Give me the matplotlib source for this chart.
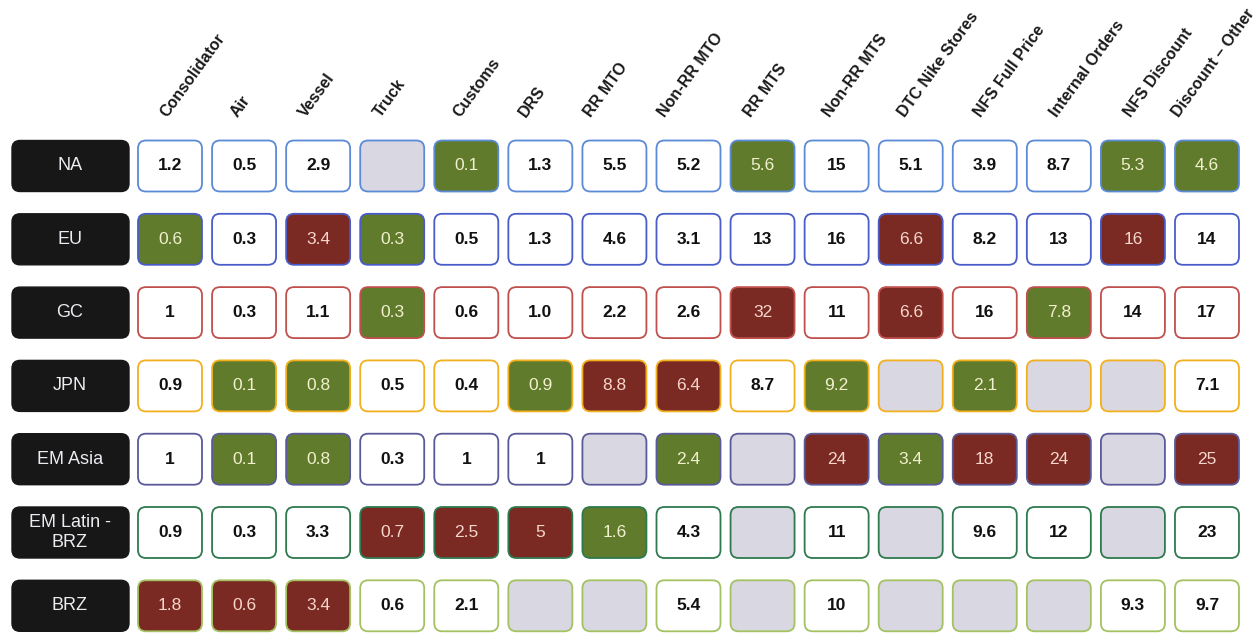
import numpy as np
import matplotlib.pyplot as plt
from matplotlib.patches import FancyBboxPatch

plt.rcParams['font.family'] = ['Liberation Sans', 'DejaVu Sans']

# regions (rows) and flow stages (columns)
regions = ['NA', 'EU', 'GC', 'JPN', 'EM Asia', 'EM Latin -\nBRZ', 'BRZ']
stages = ['Consolidator', 'Air', 'Vessel', 'Truck', 'Customs', 'DRS', 'RR MTO',
          'Non-RR MTO', 'RR MTS', 'Non-RR MTS', 'DTC Nike Stores', 'NFS Full Price',
          'Internal Orders', 'NFS Discount', 'Discount \u2013 Other']

# cell values as shown ('' = no data)
values = [
    ['1.2', '0.5', '2.9', '', '0.1', '1.3', '5.5', '5.2', '5.6', '15', '5.1', '3.9', '8.7', '5.3', '4.6'],
    ['0.6', '0.3', '3.4', '0.3', '0.5', '1.3', '4.6', '3.1', '13', '16', '6.6', '8.2', '13', '16', '14'],
    ['1', '0.3', '1.1', '0.3', '0.6', '1.0', '2.2', '2.6', '32', '11', '6.6', '16', '7.8', '14', '17'],
    ['0.9', '0.1', '0.8', '0.5', '0.4', '0.9', '8.8', '6.4', '8.7', '9.2', '', '2.1', '', '', '7.1'],
    ['1', '0.1', '0.8', '0.3', '1', '1', '', '2.4', '', '24', '3.4', '18', '24', '', '25'],
    ['0.9', '0.3', '3.3', '0.7', '2.5', '5', '1.6', '4.3', '', '11', '', '9.6', '12', '', '23'],
    ['1.8', '0.6', '3.4', '0.6', '2.1', '', '', '5.4', '', '10', '', '', '', '9.3', '9.7'],
]

# status per cell: w = neutral, g = good, r = bad, e = empty
status = [
    'wwwegwwwgwwwwgg',
    'gwrgwwwwwwrwwrw',
    'wwwgwwwwrwrwgww',
    'wggwwgrrwgegeew',
    'wggwwwegergrrer',
    'wwwrrrgwewewwew',
    'rrrwweeweweeeww',
]

row_edge = ['#5b8ad6', '#4a5cc8', '#c0504d', '#f2b01e', '#5a5a9a', '#2e7a4e', '#a4c261']

fill = {'w': 'white', 'g': '#607b2b', 'r': '#7a2a23', 'e': '#d9d8e2'}
txt = {'w': '#111111', 'g': '#f2f0cf', 'r': '#f6d6cc', 'e': 'k'}

# header text start, in column widths relative to the column centre
head_dx = [-0.03, -0.09, -0.16, -0.15, -0.08, -0.19, -0.31, -0.32,
           -0.15, -0.09, -0.08, -0.05, -0.03, -0.02, -0.38]

x0, dx = 170, 74.07      # first column centre, column pitch
y0, dy = 166, 73.3       # first row centre, row pitch
cw, ch = 64, 51          # cell size

fig = plt.figure(figsize=(12.56, 6.34), dpi=100)
ax = fig.add_axes([0, 0, 1, 1])
ax.set_xlim(0, 1256)
ax.set_ylim(634, 0)
ax.axis('off')

for i, reg in enumerate(regions):
    yc = y0 + i * dy
    ax.add_patch(FancyBboxPatch((12 + 8, yc - ch / 2 + 8), 117 - 16, ch - 16,
                                boxstyle='round,pad=8', fc='#171717', ec='#171717', lw=1))
    ax.text(70, yc, reg, ha='center', va='center', color='#ececf2', fontsize=13,
            linespacing=1.2)
    for j in range(len(stages)):
        xc = x0 + j * dx
        s = status[i][j]
        ax.add_patch(FancyBboxPatch((xc - cw / 2 + 8, yc - ch / 2 + 8), cw - 16, ch - 16,
                                    boxstyle='round,pad=8', fc=fill[s], ec=row_edge[i], lw=1.3))
        if values[i][j]:
            ax.text(xc, yc, values[i][j], ha='center', va='center', color=txt[s],
                    fontsize=12.5, fontweight='bold' if s == 'w' else 'normal')

for j, name in enumerate(stages):
    ax.text(x0 + (j + head_dx[j]) * dx, 118, name, rotation=54, rotation_mode='anchor',
            ha='left', va='baseline', fontsize=11.5, fontweight='bold', color='#1a1a1a')

fig.savefig('out.png', dpi=100)
